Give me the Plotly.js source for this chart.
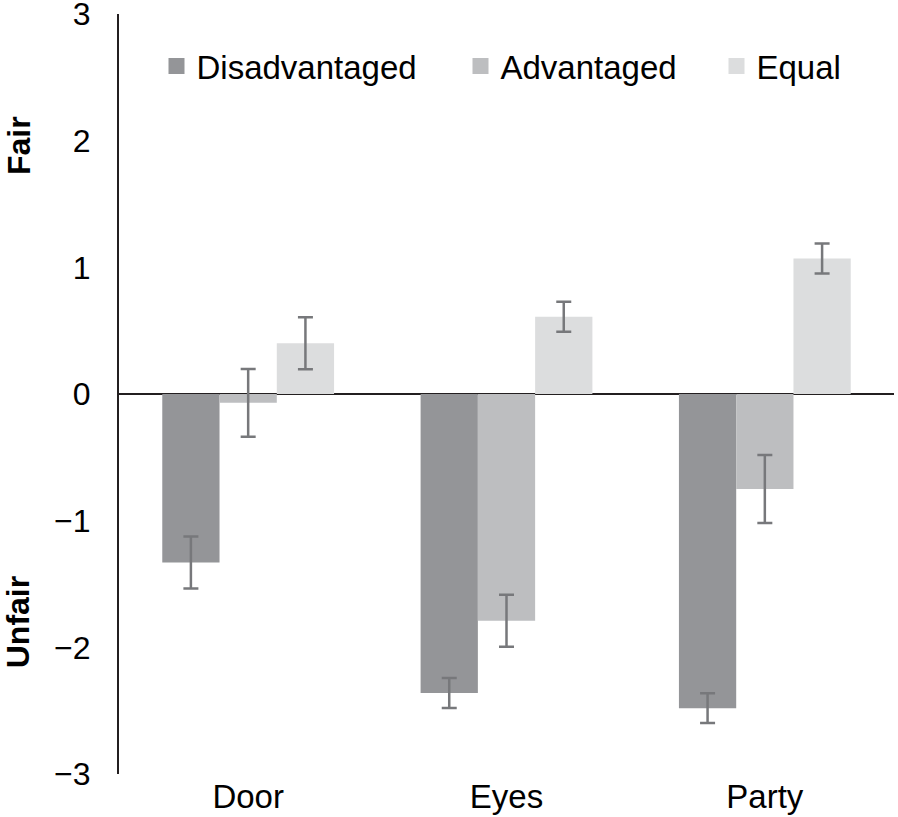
<!DOCTYPE html>
<html>
<head>
<meta charset="utf-8">
<script src="https://cdn.plot.ly/plotly-3.0.1.min.js"></script>
<style>html,body{margin:0;padding:0;background:#fff;}#chart{width:898px;height:817px;}</style>
</head>
<body>
<div id="chart"></div>
<script>
const categories = ["Door", "Eyes", "Party"];
const seriesNames = ["Disadvantaged", "Advantaged", "Equal"];
const disadvantaged = [-1.33, -2.36, -2.48];
const advantaged = [-0.07, -1.79, -0.75];
const equal = [0.40, 0.61, 1.07];
const disadvantagedErr = [0.205, 0.118, 0.118];
const advantagedErr = [0.268, 0.205, 0.268];
const equalErr = [0.205, 0.118, 0.118];
const yTickValues = [-3, -2, -1, 0, 1, 2, 3];

const colors = ["#949598", "#bdbec0", "#dcddde"];
const errColor = "#77787b";
const font = "Liberation Sans, Arial, Helvetica, sans-serif";

const values = [disadvantaged, advantaged, equal];
const errs = [disadvantagedErr, advantagedErr, equalErr];

const traces = [];
values.forEach((v, i) => {
  traces.push({
    type: "bar",
    x: categories,
    y: v,
    name: seriesNames[i],
    showlegend: false,
    marker: {color: colors[i], line: {width: 0}},
    error_y: {type: "data", array: errs[i], visible: true, color: errColor, thickness: 2.5, width: 7.5}
  });
});
// legend entries
const legendIds = ["legend", "legend2", "legend3"];
seriesNames.forEach((n, i) => {
  traces.push({
    type: "scatter",
    mode: "markers",
    x: [null],
    y: [null],
    name: n,
    legend: legendIds[i],
    showlegend: true,
    hoverinfo: "skip",
    marker: {symbol: "square", size: 19, color: colors[i]}
  });
});

const legendX = [156.5, 460.5, 716.5];
function mkLegend(px) {
  return {
    orientation: "h",
    xref: "container", yref: "container",
    x: px / 898, y: 1 - 66 / 817,
    xanchor: "left", yanchor: "middle",
    font: {family: font, size: 33, color: "#000"},
    bgcolor: "rgba(0,0,0,0)", borderwidth: 0,
    itemsizing: "trace", itemclick: false, itemdoubleclick: false
  };
}

const layout = {
  width: 898, height: 817,
  margin: {l: 119, r: 4, t: 14, b: 43, autoexpand: false},
  paper_bgcolor: "#fff", plot_bgcolor: "#fff",
  barmode: "group", bargap: 0.335, bargroupgap: 0,
  font: {family: font, size: 32, color: "#000"},
  xaxis: {
    type: "category", showline: false, showgrid: false, zeroline: false,
    ticks: "", tickfont: {family: font, size: 33, color: "#000"}
  },
  yaxis: {
    range: [-3, 3], tickvals: yTickValues, showgrid: false,
    showline: true, linecolor: "#231f20", linewidth: 2,
    zeroline: true, zerolinecolor: "#231f20", zerolinewidth: 2,
    ticks: "", ticklabelstandoff: 20, ticklabeloverflow: "allow",
    tickfont: {family: font, size: 32, color: "#000"}
  },
  legend: mkLegend(legendX[0]),
  legend2: mkLegend(legendX[1]),
  legend3: mkLegend(legendX[2]),
  annotations: [
    {text: "<b>Fair</b>", xref: "paper", yref: "y", x: -0.130, y: 1.96, textangle: -90,
     showarrow: false, font: {family: font, size: 32, color: "#000"}, xanchor: "center", yanchor: "middle"},
    {text: "<b>Unfair</b>", xref: "paper", yref: "y", x: -0.130, y: -1.8, textangle: -90,
     showarrow: false, font: {family: font, size: 32, color: "#000"}, xanchor: "center", yanchor: "middle"}
  ]
};

Plotly.newPlot("chart", traces, layout, {displayModeBar: false, staticPlot: true});
</script>
</body>
</html>
